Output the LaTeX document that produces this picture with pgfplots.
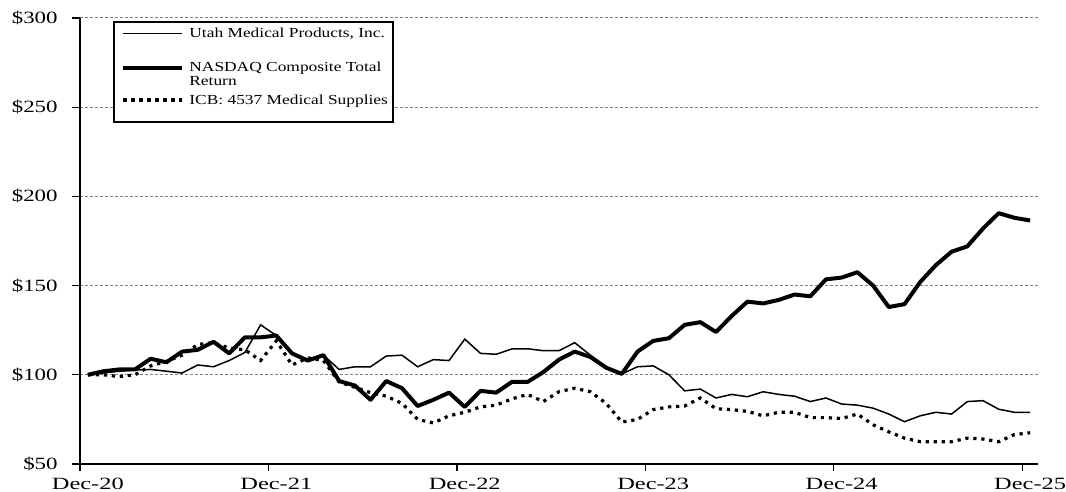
\documentclass[border=0pt]{standalone}
\usepackage{fontspec}
\setmainfont{Liberation Serif}
\usepackage{graphicx}
\usepackage{pgfplots}
\usepackage{pgfplotstable}
\pgfplotsset{compat=1.18}
\newcommand{\tl}[1]{\scalebox{1.33}[1]{#1}}
\newcommand{\xl}[1]{\scalebox{1.42}[1]{#1}}
\newcommand{\lgd}[1]{\scalebox{1.26}[1]{#1}}
\pgfplotstableread{
m utah nasdaq icb
0 100 100 100
1 101 102 100
2 102 103 99
3 102.7 103 100
4 103 109 105
5 102 107 107.5
6 101 113 111
7 105.5 114 117
8 104.5 118.5 118
9 108 112 115
10 112.5 121 114
11 128 121 108
12 122 122 119
13 112 112 105.5
14 107.5 108 109.5
15 111 111 108
16 103 96.5 96
17 104.5 94 93
18 104.5 86 90
19 110.5 96.5 88
20 111 92.5 84
21 104.5 82.5 75
22 108.5 86 73
23 108 90 77
24 120 82 79
25 112 91 82
26 111.5 90 83
27 114.5 96 86.5
28 114.6 96 89
29 113.5 101.5 85
30 113.5 108.5 90.5
31 118 113 92.5
32 111 110 90.5
33 104.5 104 84
34 100.5 100.5 73.5
35 104.5 113 75
36 105 119 80.5
37 100 120.5 82
38 91 128 82.5
39 92 129.5 87
40 87 124 81
41 89 133 80.5
42 87.7 141 79.5
43 90.5 140 77
44 89 142 79
45 88 145 79
46 85 144 76
47 87 153.5 76
48 83.6 154.5 75.5
49 83 157.5 78
50 81.3 150 72
51 78 138 68
52 73.7 139.6 64.5
53 77 152 62.5
54 79 161.5 62.5
55 78 169 62.5
56 85 172 64.5
57 85.5 182 64
58 80.7 190.6 62.5
59 79 188 66.5
60 79 186.5 67.5
}\data
\begin{document}
\begin{tikzpicture}
\begin{axis}[
  at={(0,0)}, anchor=south west,
  scale only axis, width=479bp, height=223bp,
  xmin=-0.5, xmax=60.5, ymin=50, ymax=300,
  axis x line*=bottom, axis y line*=left,
  axis line style={-, black, line width=0.75bp},
  xtick={0,12,24,36,48,60},
  xticklabels={\xl{Dec-20},\xl{Dec-21},\xl{Dec-22},\xl{Dec-23},\xl{Dec-24},\xl{Dec-25}},
  major x tick style={draw=none},
  minor xtick={-0.5,11.5,23.5,35.5,47.5,59.5},
  minor tick length=3.5bp,
  minor x tick style={black, line width=0.6bp},
  ytick={50,100,150,200,250,300},
  yticklabels={\tl{\$50},\tl{\$100},\tl{\$150},\tl{\$200},\tl{\$250},\tl{\$300}},
  ymajorgrids,
  major grid style={gray, line width=0.5bp, dash pattern=on 1.5bp off 1bp},
  tick align=outside,
  major tick length=4bp,
  tick style={black, line width=0.6bp},
  ticklabel style={font=\fontsize{8.6bp}{10bp}\selectfont},
  yticklabel style={anchor=east, inner sep=0pt, xshift=-7bp},
  xticklabel style={anchor=base, inner sep=0pt, yshift=-8.5bp},
]
\addplot[black, line width=0.75bp] table[x=m, y=utah] {\data};
\addplot[black, line width=2bp, line join=round] table[x=m, y=nasdaq] {\data};
\addplot[black, line width=1.6bp, dash pattern=on 1.6bp off 2.4bp] table[x=m, y=icb] {\data};
\end{axis}
\draw[black, line width=0.6bp, fill=white] (17bp,171bp) rectangle (156.5bp,221bp);
\draw[black, line width=0.75bp] (21.7bp,215.3bp) -- (50.8bp,215.3bp);
\draw[black, line width=2bp] (21.7bp,198.2bp) -- (50.8bp,198.2bp);
\draw[black, line width=1.6bp, dash pattern=on 1.6bp off 2.4bp] (21.7bp,182bp) -- (50.8bp,182bp);
\begin{scope}[every node/.style={anchor=base west, inner sep=0pt, font=\fontsize{6.9bp}{8bp}\selectfont}]
\node at (54.5bp,213.3bp) {\lgd{Utah Medical Products, Inc.}};
\node at (54.5bp,196.2bp) {\lgd{NASDAQ Composite Total}};
\node at (54.5bp,189.2bp) {\lgd{Return}};
\node at (54.5bp,179.8bp) {\lgd{ICB: 4537 Medical Supplies}};
\end{scope}
\pgfresetboundingbox
\path (-40bp,-14bp) rectangle (493bp,232bp);
\end{tikzpicture}
\end{document}
